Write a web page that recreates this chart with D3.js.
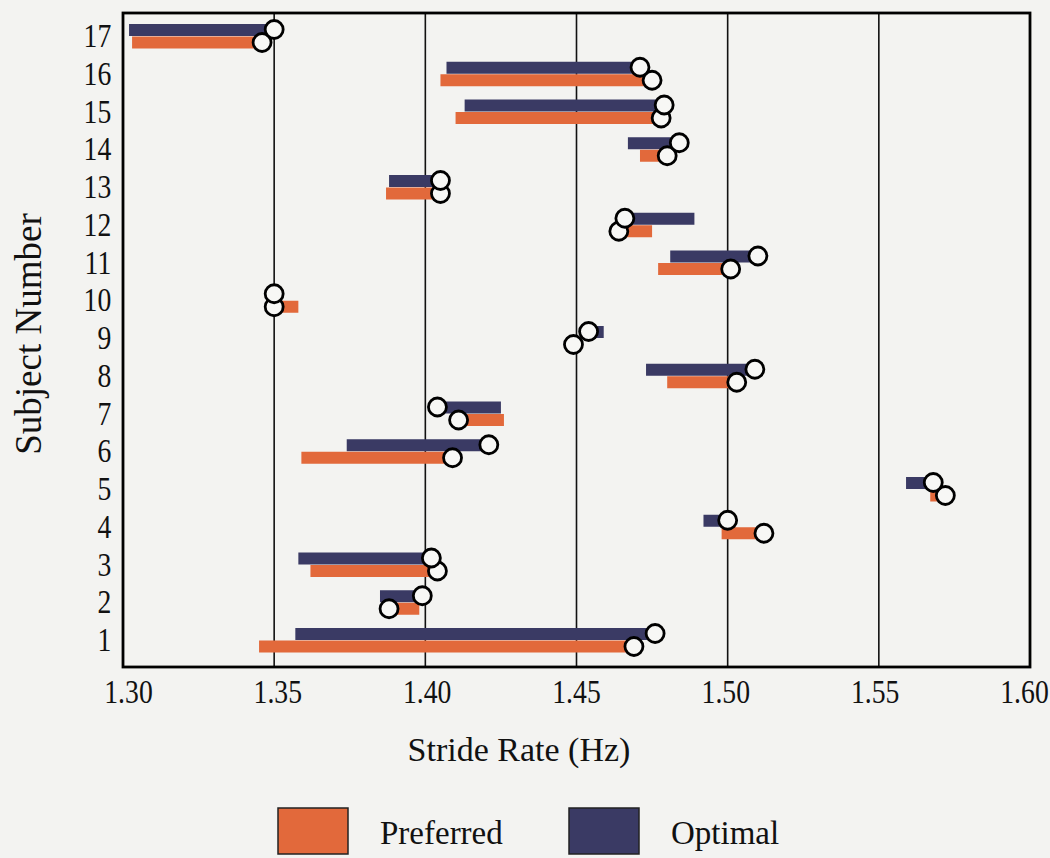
<!DOCTYPE html>
<html>
<head>
<meta charset="utf-8">
<script src="https://cdn.jsdelivr.net/npm/d3@7"></script>
<style>
  html, body { margin: 0; padding: 0; background: #f3f3f1; }
  svg { display: block; }
  text { font-family: "Liberation Serif", "Times New Roman", serif; fill: #111; }
</style>
</head>
<body>
<div id="chart"></div>
<script>
// subject numbers, bottom to top
const subjects = [1, 2, 3, 4, 5, 6, 7, 8, 9, 10, 11, 12, 13, 14, 15, 16, 17];

// optimal stride rate range (Hz) and the circled value
const optLow    = [1.357, 1.385, 1.358, 1.492, 1.559, 1.374, 1.404, 1.473, 1.454, 1.350, 1.481, 1.466, 1.388, 1.467, 1.413, 1.407, 1.302];
const optHigh   = [1.476, 1.399, 1.402, 1.500, 1.568, 1.421, 1.425, 1.509, 1.459, 1.350, 1.510, 1.489, 1.405, 1.484, 1.479, 1.471, 1.350];
const optMark   = [1.476, 1.399, 1.402, 1.500, 1.568, 1.421, 1.404, 1.509, 1.454, 1.350, 1.510, 1.466, 1.405, 1.484, 1.479, 1.471, 1.350];

// preferred stride rate range (Hz) and the circled value
const prefLow   = [1.345, 1.388, 1.362, 1.498, 1.567, 1.359, 1.411, 1.480, 1.449, 1.350, 1.477, 1.464, 1.387, 1.471, 1.410, 1.405, 1.303];
const prefHigh  = [1.469, 1.398, 1.404, 1.512, 1.572, 1.409, 1.426, 1.503, 1.451, 1.358, 1.501, 1.475, 1.405, 1.480, 1.478, 1.475, 1.346];
const prefMark  = [1.469, 1.388, 1.404, 1.512, 1.572, 1.409, 1.411, 1.503, 1.449, 1.350, 1.501, 1.464, 1.405, 1.480, 1.478, 1.475, 1.346];

const xTicks = [1.30, 1.35, 1.40, 1.45, 1.50, 1.55, 1.60];
const legendItems = ["Preferred", "Optimal"];

const width = 1050, height = 858;
const plotLeft = 123, plotRight = 1030, plotTop = 13, plotBottom = 667;
const barH = 12;
const navy = "#3a3a64", orange = "#e2693b";
const squeeze = "scale(0.84,1)";   // the scanned lettering is narrow

const svg = d3.select("#chart").append("svg")
    .attr("width", width).attr("height", height);

const x = d3.scaleLinear().domain([1.30, 1.60]).range([plotLeft, plotRight]);
const y = d3.scaleLinear().domain([1, 17]).range([640, 36]);
// tick labels sit a little inside the frame at both ends
const xLabel = x.copy().range([128, 1024]);

// vertical grid lines
svg.append("g")
    .selectAll("line").data(xTicks.slice(1, -1)).enter().append("line")
    .attr("x1", d => x(d)).attr("x2", d => x(d))
    .attr("y1", plotTop).attr("y2", plotBottom)
    .attr("stroke", "#111").attr("stroke-width", 1.6);

const rows = subjects.map((s, i) => ({
    s: s,
    opt: [optLow[i], optHigh[i], optMark[i]],
    pref: [prefLow[i], prefHigh[i], prefMark[i]]
}));

// bars
svg.append("g").selectAll("rect").data(rows).enter().append("rect")
    .attr("x", d => x(d.opt[0]))
    .attr("width", d => Math.max(0, x(d.opt[1]) - x(d.opt[0])))
    .attr("y", d => y(d.s) - barH)
    .attr("height", barH)
    .attr("fill", navy);

svg.append("g").selectAll("rect").data(rows).enter().append("rect")
    .attr("x", d => x(d.pref[0]))
    .attr("width", d => Math.max(0, x(d.pref[1]) - x(d.pref[0])))
    .attr("y", d => y(d.s) + 0.5)
    .attr("height", barH)
    .attr("fill", orange);

// circles marking each value
svg.append("g").selectAll("circle").data(rows).enter().append("circle")
    .attr("cx", d => x(d.pref[2]))
    .attr("cy", d => y(d.s) + 6.5)
    .attr("r", 9)
    .attr("fill", "#f7f7f5").attr("stroke", "#000").attr("stroke-width", 2.8);

svg.append("g").selectAll("circle").data(rows).enter().append("circle")
    .attr("cx", d => x(d.opt[2]))
    .attr("cy", d => y(d.s) - 6.5)
    .attr("r", 9)
    .attr("fill", "#f7f7f5").attr("stroke", "#000").attr("stroke-width", 2.8);

// frame
svg.append("rect")
    .attr("x", plotLeft).attr("y", plotTop)
    .attr("width", plotRight - plotLeft).attr("height", plotBottom - plotTop)
    .attr("fill", "none").attr("stroke", "#000").attr("stroke-width", 2.8);

// x axis labels
const xAxis = svg.append("g")
    .attr("transform", `translate(0,${plotBottom})`)
    .call(d3.axisBottom(xLabel).tickValues(xTicks).tickFormat(d3.format(".2f")).tickSize(0).tickPadding(13));
xAxis.select(".domain").remove();
xAxis.selectAll("text")
    .attr("font-size", 33).attr("font-family", "Liberation Serif").attr("fill", "#111")
    .attr("transform", squeeze);

// y axis labels
const yAxis = svg.append("g")
    .attr("transform", `translate(${plotLeft},0)`)
    .call(d3.axisLeft(y).tickValues(subjects).tickFormat(d3.format("d")).tickSize(0).tickPadding(14));
yAxis.select(".domain").remove();
yAxis.selectAll("text")
    .attr("font-size", 33).attr("font-family", "Liberation Serif").attr("fill", "#111")
    .attr("transform", squeeze);

svg.append("text")
    .attr("x", 519).attr("y", 761)
    .attr("text-anchor", "middle")
    .attr("font-size", 34)
    .text("Stride Rate (Hz)");

svg.append("text")
    .attr("transform", "translate(41,334) rotate(-90)")
    .attr("text-anchor", "middle")
    .attr("font-size", 37)
    .text("Subject Number");

// legend
const legend = svg.append("g").selectAll("g").data(legendItems).enter().append("g")
    .attr("transform", (d, i) => `translate(${278 + i * 291},808)`);
legend.append("rect")
    .attr("width", 70).attr("height", 46)
    .attr("fill", (d, i) => i === 0 ? orange : navy)
    .attr("stroke", "#222").attr("stroke-width", 1.5);
legend.append("text")
    .attr("x", 102).attr("y", 36)
    .attr("font-size", 33)
    .text(d => d);
</script>
</body>
</html>
